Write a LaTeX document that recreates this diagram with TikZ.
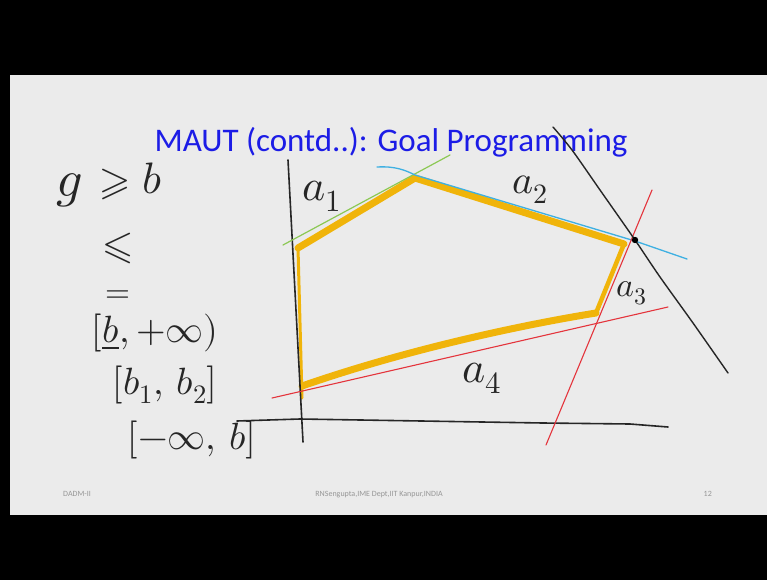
\documentclass[tikz,border=0pt]{standalone}
\usepackage{fontspec}
\usepackage{unicode-math}
\setmathfont{Latin Modern Math}
\newfontfamily\slidefont{Carlito}
\usetikzlibrary{positioning}
\definecolor{slidebg}{RGB}{235,235,235}
\definecolor{titleblue}{RGB}{28,28,230}
\definecolor{penyellow}{RGB}{240,180,10}
\definecolor{penred}{RGB}{228,52,60}
\definecolor{penblue}{RGB}{62,176,226}
\definecolor{pengreen}{RGB}{140,200,84}
\definecolor{penink}{RGB}{38,38,38}
\definecolor{footgray}{RGB}{150,150,150}

\begin{document}
\begin{tikzpicture}[x=1pt,y=-1pt,
  hand/.style={inner sep=0pt,text=penink},
  pen/.style={line cap=round,line join=round}]
  \useasboundingbox (0,0) rectangle (767,580);

  % Screen
  \fill[black] (0,0) rectangle (767,580);
  \fill[slidebg] (10,75) rectangle (767,515);

  % Title
  \node[text=titleblue,font=\slidefont\fontsize{33}{36}\selectfont,anchor=base,inner sep=0pt] (title) at (391,152) {MAUT (contd..): Goal Programming};

  % Footer
  \node[text=footgray,font=\slidefont\fontsize{8}{9}\selectfont,anchor=base west,inner sep=0pt] (foot1) at (63,496) {DADM-II};
  \node[text=footgray,font=\slidefont\fontsize{8}{9}\selectfont,anchor=base,inner sep=0pt] (foot2) at (379,496) {RNSengupta,IME Dept,IIT Kanpur,INDIA};
  \node[text=footgray,font=\slidefont\fontsize{8}{9}\selectfont,anchor=base east,inner sep=0pt] (foot3) at (712,496) {12};

  % Feasible region
  \coordinate (p1) at (298,248);
  \coordinate (p2) at (415,178);
  \coordinate (p3) at (624,244);
  \coordinate (p4) at (596,313);
  \coordinate (p5) at (302,386);
  \coordinate (p6) at (302,398);
  \draw[penyellow,line width=7pt,pen] (p1) -- (p2) -- (p3);
  \draw[penyellow,line width=4.5pt,pen] (p3) -- (p4);
  \draw[penyellow,line width=7pt,pen] (p4) .. controls (540,322) and (420,345) .. (p5);
  \draw[penyellow,line width=3pt,pen] (p6) -- (p1);

  % Axes
  \draw[penink,line width=1.6pt,pen] (288,160) -- (303,442);
  \draw[penink,line width=1.6pt,pen] (237,421) -- (300,419) -- (543,423) -- (630,424) -- (668,427);

  % Constraint lines
  \draw[pengreen,line width=1.2pt,pen] (283,245) -- (450,155);
  \draw[penblue,line width=1.3pt,pen] (377,167) .. controls (395,166) and (405,170) .. (415,175) -- (635,241) -- (687,259);
  \draw[penred,line width=1.1pt,pen] (272,398) -- (668,307);
  \draw[penred,line width=1.1pt,pen] (546,445) -- (652,190);
  \draw[penink,line width=1.4pt,pen] plot[smooth] coordinates {(553,127) (572,150) (600,190) (635,240) (660,277) (693,323) (728,373)};
  \fill[black] (635,240) circle (3.2pt) coordinate (opt);

  % Labels
  \node[hand,font=\fontsize{44}{44}\selectfont] (a1) at (322,196) {$a_1$};
  \node[hand,font=\fontsize{40}{40}\selectfont] (a2) at (530,190) {$a_2$};
  \node[hand,font=\fontsize{34}{34}\selectfont] (a3) at (632,293) {$a_3$};
  \node[hand,font=\fontsize{44}{44}\selectfont] (a4) at (482,378) {$a_4$};

  % Goal types
  \node[hand,font=\fontsize{52}{52}\selectfont] (g) at (70,190) {$g$};
  \node[hand,font=\fontsize{40}{40}\selectfont] (ge) at (115,184) {$\geqslant$};
  \node[hand,font=\fontsize{44}{44}\selectfont] (b) at (152,178) {$b$};
  \node[hand,font=\fontsize{40}{40}\selectfont] (le) at (118,248) {$\leqslant$};
  \node[hand,font=\fontsize{32}{32}\selectfont] (eq) at (118,297) {$=$};
  \node[hand,font=\fontsize{38}{38}\selectfont] (r1) at (155,333) {$[\underline{b},+\infty)$};
  \node[hand,font=\fontsize{38}{38}\selectfont] (r2) at (165,385) {$[b_1,\,b_2]$};
  \node[hand,font=\fontsize{38}{38}\selectfont] (r3) at (192,440) {$[-\infty,\,b]$};
\end{tikzpicture}
\end{document}
